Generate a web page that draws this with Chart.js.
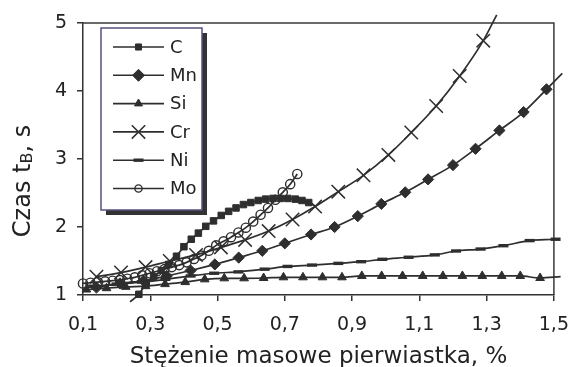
<!DOCTYPE html>
<html>
<head>
<meta charset="utf-8">
<script src="https://cdn.jsdelivr.net/npm/chart.js@4/dist/chart.umd.min.js"></script>
<style>
    html, body { margin: 0; padding: 0; background: #fff; }
    #wrap { position: relative; width: 582px; height: 367px; }
</style>
</head>
<body>
<div id="wrap"><canvas id="chart"></canvas></div>
<script>
// --- data ---
const xTicks = [0.1, 0.3, 0.5, 0.7, 0.9, 1.1, 1.3, 1.5];
const yTicks = [1, 2, 3, 4, 5];
const seriesNames = ['C', 'Mn', 'Si', 'Cr', 'Ni', 'Mo'];

const cX = [0.24, 0.266, 0.288, 0.31, 0.333, 0.355, 0.378, 0.40, 0.422, 0.443, 0.465, 0.488, 0.511, 0.533, 0.555, 0.577, 0.599, 0.621, 0.643, 0.665, 0.687, 0.709, 0.731, 0.751, 0.771, 0.79];
const cY = [0.90, 1.01, 1.17, 1.27, 1.36, 1.45, 1.57, 1.71, 1.82, 1.91, 2.01, 2.09, 2.17, 2.23, 2.28, 2.33, 2.36, 2.39, 2.41, 2.42, 2.42, 2.42, 2.41, 2.39, 2.36, 2.31];

const mnX = [0.14, 0.21, 0.28, 0.349, 0.42, 0.492, 0.563, 0.633, 0.70, 0.778, 0.848, 0.917, 0.987, 1.058, 1.126, 1.20, 1.267, 1.338, 1.41, 1.478, 1.525];
const mnY = [1.11, 1.17, 1.21, 1.28, 1.36, 1.45, 1.55, 1.65, 1.76, 1.89, 2.00, 2.16, 2.34, 2.51, 2.70, 2.91, 3.15, 3.42, 3.69, 4.025, 4.26];

const siX = [0.11, 0.17, 0.227, 0.286, 0.344, 0.404, 0.462, 0.52, 0.579, 0.637, 0.696, 0.754, 0.812, 0.87, 0.929, 0.988, 1.05, 1.11, 1.17, 1.228, 1.287, 1.345, 1.40, 1.459, 1.52];
const siY = [1.08, 1.10, 1.12, 1.13, 1.16, 1.19, 1.23, 1.245, 1.245, 1.25, 1.26, 1.26, 1.26, 1.26, 1.28, 1.28, 1.28, 1.28, 1.28, 1.28, 1.28, 1.28, 1.28, 1.25, 1.27];

const crX = [0.14, 0.213, 0.286, 0.358, 0.436, 0.51, 0.582, 0.652, 0.723, 0.79, 0.859, 0.934, 1.008, 1.076, 1.15, 1.22, 1.29, 1.33];
const crY = [1.27, 1.33, 1.41, 1.50, 1.59, 1.70, 1.81, 1.94, 2.11, 2.30, 2.52, 2.76, 3.06, 3.39, 3.78, 4.22, 4.74, 5.12];

const niX = [0.13, 0.20, 0.275, 0.345, 0.42, 0.49, 0.562, 0.64, 0.708, 0.781, 0.859, 0.927, 0.99, 1.068, 1.146, 1.209, 1.282, 1.35, 1.428, 1.505, 1.525];
const niY = [1.13, 1.16, 1.19, 1.23, 1.28, 1.32, 1.34, 1.38, 1.42, 1.44, 1.465, 1.49, 1.525, 1.555, 1.59, 1.647, 1.676, 1.725, 1.80, 1.82, 1.83];

const moX = [0.10, 0.122, 0.144, 0.166, 0.188, 0.21, 0.232, 0.254, 0.276, 0.298, 0.32, 0.342, 0.364, 0.386, 0.408, 0.43, 0.452, 0.474, 0.496, 0.518, 0.54, 0.562, 0.584, 0.606, 0.628, 0.65, 0.672, 0.694, 0.716, 0.737];
const moY = [1.17, 1.18, 1.19, 1.20, 1.21, 1.22, 1.24, 1.26, 1.29, 1.32, 1.35, 1.38, 1.41, 1.44, 1.48, 1.53, 1.58, 1.65, 1.73, 1.79, 1.85, 1.92, 1.99, 2.08, 2.18, 2.28, 2.40, 2.51, 2.63, 2.78];

// indices that are only trend line, no marker
const trendOnly = {
    C: [0, cX.length - 1],
    Mn: [mnX.length - 1],
    Si: [siX.length - 1],
    Cr: [crX.length - 1],
    Ni: [niX.length - 1],
    Mo: [],
};

const seriesData = {
    C: [cX, cY], Mn: [mnX, mnY], Si: [siX, siY], Cr: [crX, crY], Ni: [niX, niY], Mo: [moX, moY],
};

// --- styles ---
const INK = '#2e2e2e';
const FONT = '"DejaVu Sans", "Liberation Sans", sans-serif';
const STYLES = {
    C: { pointStyle: 'rect', radius: 4.6, legendRadius: 4.3, borderWidth: 1, fill: INK },
    Mn: { pointStyle: 'rectRot', radius: 5.6, legendRadius: 6, borderWidth: 1, fill: INK },
    Si: { pointStyle: 'triangle', radius: 5, legendRadius: 4.6, borderWidth: 1, fill: INK },
    Cr: { pointStyle: 'crossRot', radius: 9.5, legendRadius: 9.5, borderWidth: 1.5, fill: INK },
    Ni: { pointStyle: 'line', radius: 5, legendRadius: 5, borderWidth: 3.4, fill: INK },
    Mo: { pointStyle: 'circle', radius: 4.6, legendRadius: 3.6, borderWidth: 1.4, fill: 'rgba(0,0,0,0)' },
};

const legendBox = { left: 101, top: 28, width: 101, height: 182, shadow: 5, rowTop: 47, rowGap: 28.3, lineFrom: 113, lineTo: 164, textX: 170 };

const datasets = seriesNames.map((name) => {
    const [xs, ys] = seriesData[name];
    const st = STYLES[name];
    const skip = trendOnly[name];
    return {
        label: name,
        data: xs.map((x, i) => ({ x, y: ys[i] })),
        borderColor: INK,
        borderWidth: 1.7,
        backgroundColor: st.fill,
        pointStyle: st.pointStyle,
        pointRadius: (ctx) => (skip.includes(ctx.dataIndex) ? 0 : st.radius),
        pointBorderWidth: st.borderWidth,
        pointBorderColor: INK,
        pointBackgroundColor: st.fill,
        cubicInterpolationMode: 'monotone',
        clip: false,
    };
});

const framePlugin = {
    id: 'frame',
    beforeDatasetsDraw(chart) {
        const { ctx, chartArea: a } = chart;
        ctx.save();
        ctx.strokeStyle = '#3a3a3a';
        ctx.lineWidth = 1.5;
        ctx.beginPath();
        ctx.moveTo(a.left, a.top);
        ctx.lineTo(a.right, a.top);
        ctx.lineTo(a.right, a.bottom);
        ctx.stroke();
        ctx.restore();
    },
};

const yTitlePlugin = {
    id: 'yTitle',
    afterDraw(chart) {
        const { ctx } = chart;
        const main = 'Czas t', sub = 'B', rest = ', s';
        const big = `24px ${FONT}`, small = `16px ${FONT}`;
        ctx.save();
        ctx.translate(24, 181);
        ctx.rotate(-Math.PI / 2);
        ctx.fillStyle = '#222';
        ctx.textBaseline = 'middle';
        ctx.textAlign = 'left';
        ctx.font = big;
        const w1 = ctx.measureText(main).width, w3 = ctx.measureText(rest).width;
        ctx.font = small;
        const w2 = ctx.measureText(sub).width;
        let x = -(w1 + w2 + w3) / 2;
        ctx.font = big;
        ctx.fillText(main, x, 0);
        x += w1;
        ctx.font = small;
        ctx.fillText(sub, x, 4);
        x += w2;
        ctx.font = big;
        ctx.fillText(rest, x, 0);
        ctx.restore();
    },
};

const legendPlugin = {
    id: 'boxLegend',
    afterDraw(chart) {
        const { ctx } = chart;
        const b = legendBox;
        ctx.save();
        ctx.fillStyle = '#333';
        ctx.fillRect(b.left + b.shadow, b.top + b.shadow, b.width, b.height);
        ctx.fillStyle = '#fff';
        ctx.fillRect(b.left, b.top, b.width, b.height);
        ctx.strokeStyle = '#56527f';
        ctx.lineWidth = 1.5;
        ctx.strokeRect(b.left, b.top, b.width, b.height);

        chart.data.datasets.forEach((ds, i) => {
            const y = b.rowTop + i * b.rowGap;
            const st = STYLES[ds.label];
            ctx.strokeStyle = INK;
            ctx.lineWidth = 1.6;
            ctx.beginPath();
            ctx.moveTo(b.lineFrom, y);
            ctx.lineTo(b.lineTo, y);
            ctx.stroke();

            ctx.fillStyle = st.fill;
            ctx.lineWidth = st.borderWidth;
            Chart.helpers.drawPoint(ctx, {
                pointStyle: st.pointStyle,
                radius: st.legendRadius,
                borderWidth: st.borderWidth,
                rotation: 0,
            }, (b.lineFrom + b.lineTo) / 2, y);

            ctx.fillStyle = '#222';
            ctx.font = `18px ${FONT}`;
            ctx.textAlign = 'left';
            ctx.textBaseline = 'middle';
            ctx.fillText(ds.label, b.textX, y + 1);
        });
        ctx.restore();
    },
};

new Chart(document.getElementById('chart'), {
    type: 'line',
    data: { datasets },
    plugins: [framePlugin, yTitlePlugin, legendPlugin],
    options: {
        responsive: true,
        maintainAspectRatio: false,
        animation: false,
        devicePixelRatio: 1,
        events: [],
        layout: { padding: { left: 0, top: 23, right: 18, bottom: 0 } },
        plugins: { legend: { display: false }, tooltip: { enabled: false } },
        scales: {
            x: {
                type: 'linear',
                min: 0.1,
                max: 1.5,
                afterBuildTicks(axis) {
                    axis.ticks = xTicks.map((value) => ({ value }));
                },
                afterFit(axis) {
                    axis.height = 72;
                },
                border: { color: '#333', width: 1.5 },
                grid: { drawOnChartArea: false, drawTicks: true, tickLength: 6, color: '#333', lineWidth: 1.5 },
                ticks: {
                    color: '#222',
                    padding: 13,
                    maxRotation: 0,
                    autoSkip: false,
                    font: { family: FONT, size: 19 },
                    callback(value) {
                        return Number(value).toFixed(1).replace('.', ',');
                    },
                },
                title: {
                    display: true,
                    text: 'Stężenie masowe pierwiastka, %',
                    color: '#222',
                    padding: 0,
                    font: { family: FONT, size: 23, lineHeight: 0.85 },
                },
            },
            y: {
                min: 1,
                max: 5,
                afterBuildTicks(axis) {
                    axis.ticks = yTicks.map((value) => ({ value }));
                },
                afterFit(axis) {
                    axis.width = 83;
                },
                border: { color: '#333', width: 1.5 },
                grid: { drawOnChartArea: false, drawTicks: true, tickLength: 6, color: '#333', lineWidth: 1.5 },
                ticks: {
                    color: '#222',
                    padding: 10,
                    font: { family: FONT, size: 19 },
                },
            },
        },
    },
});
</script>
</body>
</html>
